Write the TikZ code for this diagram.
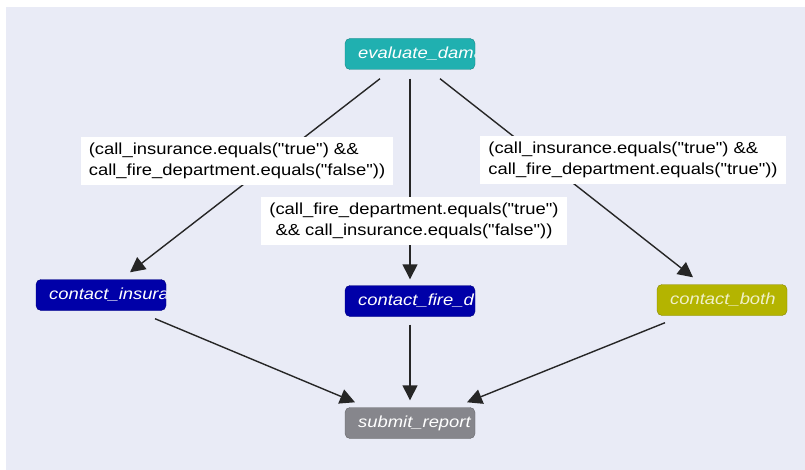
\documentclass[tikz,border=0pt]{standalone}
\usepackage{fontspec}
\setmainfont{Liberation Sans}
\newfontfamily\flowfont[FakeStretch=1.15]{Liberation Sans}
\usetikzlibrary{arrows.meta}

\definecolor{bgcol}{RGB}{233,235,246}
\definecolor{tealcol}{RGB}{32,176,176}
\definecolor{bluecol}{RGB}{0,0,168}
\definecolor{olivecol}{RGB}{180,180,0}
\definecolor{graycol}{RGB}{134,134,140}
\definecolor{paleyellow}{RGB}{240,240,200}

\begin{document}
\begin{tikzpicture}[x=1pt,y=-1pt,
      task/.style={rounded corners=5pt,minimum width=130pt,minimum height=31pt,
        inner sep=0pt,draw=#1!75!black,fill=#1,text=white},
      tasktext/.style={path picture={
        \node[anchor=west,inner sep=0pt,minimum width=0pt,minimum height=0pt,
          font=\flowfont\itshape\fontsize{16}{19}\selectfont]
          at ([xshift=13pt]path picture bounding box.west) {#1};}},
      cond/.style={fill=white,inner xsep=8pt,inner ysep=6pt,align=#1,
        font=\flowfont\fontsize{16}{21}\selectfont},
      flow/.style={draw=black!85,line width=1.4pt,-{Triangle[length=15pt,width=15pt]}}]
    \useasboundingbox (0,0) rectangle (805,470);
    \fill[bgcol] (6,7) rectangle (805,470);

    \node[task=tealcol,tasktext={evaluate\textunderscore dama}] (evaluate) at (410,54) {};
    \node[task=bluecol,tasktext={contact\textunderscore insura}] (insurance) at (101,295) {};
    \node[task=bluecol,tasktext={contact\textunderscore fire\textunderscore d}] (fire) at (410,301) {};
    \node[task=olivecol,text=paleyellow,tasktext={contact\textunderscore both}] (both) at (722,300) {};
    \node[task=graycol,tasktext={submit\textunderscore report}] (report) at (410,423) {};

    \draw[flow] ([xshift=-30pt,yshift=-9pt]evaluate.south) -- ([xshift=29pt,yshift=7pt]insurance.north);
    \draw[flow] ([yshift=-9pt]evaluate.south) -- ([yshift=6pt]fire.north);
    \draw[flow] ([xshift=30pt,yshift=-9pt]evaluate.south) -- ([xshift=-29pt,yshift=7pt]both.north);
    \draw[flow] ([xshift=54pt,yshift=-8pt]insurance.south) -- ([xshift=-55pt,yshift=5pt]report.north);
    \draw[flow] ([yshift=-8pt]fire.south) -- ([yshift=7pt]report.north);
    \draw[flow] ([xshift=-57pt,yshift=-7pt]both.south) -- ([xshift=57pt,yshift=5pt]report.north);

    \node[cond=left] (insuranceonly) at (237,161)
      {(call\textunderscore insurance.equals("true") \&\&\\call\textunderscore fire\textunderscore department.equals("false"))};
    \node[cond=center] (fireonly) at (414,221)
      {(call\textunderscore fire\textunderscore department.equals("true")\\\&\& call\textunderscore insurance.equals("false"))};
    \node[cond=left] (bothtrue) at (633,160)
      {(call\textunderscore insurance.equals("true") \&\&\\call\textunderscore fire\textunderscore department.equals("true"))};
  \end{tikzpicture}
\end{document}
